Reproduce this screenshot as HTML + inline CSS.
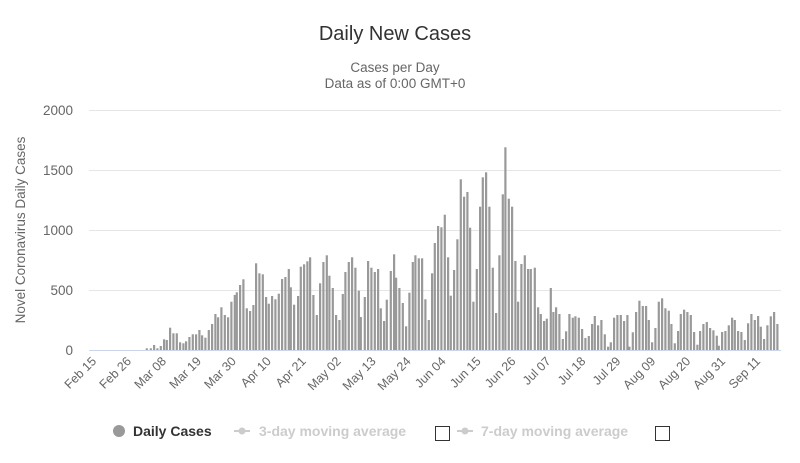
<!DOCTYPE html>
<html><head><meta charset="utf-8"><style>
body{margin:0;background:#fff;}
svg{display:block;font-family:"Liberation Sans","DejaVu Sans",sans-serif;}
</style></head><body>
<svg id="s" width="800" height="463" viewBox="0 0 800 463">
<text x="395" y="40" text-anchor="middle" font-size="20" fill="#333">Daily New Cases</text>
<text x="395" y="72" text-anchor="middle" font-size="13.5" fill="#666">Cases per Day</text>
<text x="395" y="88" text-anchor="middle" font-size="13.5" fill="#666">Data as of 0:00 GMT+0</text>
<g stroke="#e6e6e6" stroke-width="1">
<line x1="89" x2="781" y1="110.5" y2="110.5"/><line x1="89" x2="781" y1="170.5" y2="170.5"/>
<line x1="89" x2="781" y1="230.5" y2="230.5"/><line x1="89" x2="781" y1="290.5" y2="290.5"/>
</g>
<g font-size="13.5" fill="#666" text-anchor="end">
<text x="73" y="115">2000</text><text x="73" y="175">1500</text><text x="73" y="235">1000</text>
<text x="73" y="295">500</text><text x="73" y="355">0</text>
</g>
<text transform="translate(25,230) rotate(-90)" text-anchor="middle" font-size="13.5" fill="#666">Novel Coronavirus Daily Cases</text>
<g id="bars" fill="#999"></g>
<line x1="89" x2="781" y1="350.5" y2="350.5" stroke="#ccd6eb"/>
<g id="xl" font-size="12.5" fill="#666" text-anchor="end"></g>
<circle cx="119" cy="431" r="6" fill="#999"/>
<text x="133" y="436" font-size="14" font-weight="bold" fill="#333">Daily Cases</text>
<line x1="234" x2="250" y1="431" y2="431" stroke="#ccc" stroke-width="2"/><circle cx="242" cy="431" r="3.5" fill="#ccc"/>
<text x="259" y="436" font-size="14" font-weight="bold" fill="#ccc">3-day moving average</text>
<rect x="435.5" y="426.5" width="14" height="14" fill="#fff" stroke="#333"/>
<line x1="457" x2="473" y1="431" y2="431" stroke="#ccc" stroke-width="2"/><circle cx="465" cy="431" r="3.5" fill="#ccc"/>
<text x="481" y="436" font-size="14" font-weight="bold" fill="#ccc">7-day moving average</text>
<rect x="655.5" y="426.5" width="14" height="14" fill="#fff" stroke="#333"/>
</svg>
<script>
var z1=[200,625,212,625,222,615,232,625,242,618,252,598,260,600,270,563,280,580,290,580,300,607,310,610,318,604,328,591,338,583,348,583,358,570,366,586,376,593,386,570,396,552,406,522,414,532,424,502,434,525,444,532,454,485,464,465,470,457,480,435,490,418,500,505,510,513,520,495,528,370,538,400,548,403,558,471,566,491,576,468,586,478,596,461,606,417,616,411,626,387,632,442,642,494,654,468,662,380,672,373,682,364,690,352,700,465,710,525,720,430,730,366,740,346,748,407,758,444,768,525,778,540,788,462,796,396,806,366,816,352,826,383,836,452,842,531,854,471,864,363,874,383,884,396,894,387,902,505,912,543,920,479,932,393,942,343,948,413,958,444,968,489,978,559,988,458,998,366,1006,346,1016,355,1026,355,1036,478,1046,540,1056,400,1064,309,1074,258];
var z2=[34,262,44,224,54,352,62,467,72,390,82,298,92,118,102,170,112,156,120,263,130,485,140,387,150,200,158,112,168,97,178,200,188,383,198,519,208,346,218,163,226,22,236,176,246,200,256,363,264,485,274,372,284,346,294,387,302,387,314,383,324,502,332,522,342,543,350,536,362,444,370,516,378,502,388,522,398,597,408,574,418,522,428,533,436,529,446,533,456,567,466,594,476,588,486,552,494,528,504,556,514,540,524,583,534,620,542,607,552,533,562,525,572,525,582,543,592,525,598,620,608,577,618,516,628,482,638,498,648,498,656,540,666,607,676,564,686,485,696,475,706,505,716,512,724,552,734,610,744,573,752,522,762,509,772,516,782,525,792,576,802,614,810,573,820,552,830,546,840,564,850,571,860,587,866,617,876,576,886,573,896,556,906,533,914,540,924,573,934,576,944,600,954,550,964,522,974,540,984,528,992,560,1002,597,1012,556,1022,529,1032,516,1042,552];
var g=document.getElementById('bars'),h='';
function add(a,ox){for(var i=0;i<a.length;i+=2){var x=ox+a[i]/3,t=140+a[i+1]/3;h+='<rect x="'+(x-1).toFixed(1)+'" y="'+t.toFixed(1)+'" width="2.2" height="'+(350.5-t).toFixed(1)+'"/>';}}
add(z1,80);add(z2,430);g.innerHTML=h;
var L=["Feb 15","Feb 26","Mar 08","Mar 19","Mar 30","Apr 10","Apr 21","May 02","May 13","May 24","Jun 04","Jun 15","Jun 26","Jul 07","Jul 18","Jul 29","Aug 09","Aug 20","Aug 31","Sep 11"],s='';
for(var i=0;i<L.length;i++){var x=97+i*34.95;s+='<text transform="translate('+x.toFixed(1)+',362) rotate(-45)">'+L[i]+'</text>';}
document.getElementById('xl').innerHTML=s;
</script>
</body></html>
